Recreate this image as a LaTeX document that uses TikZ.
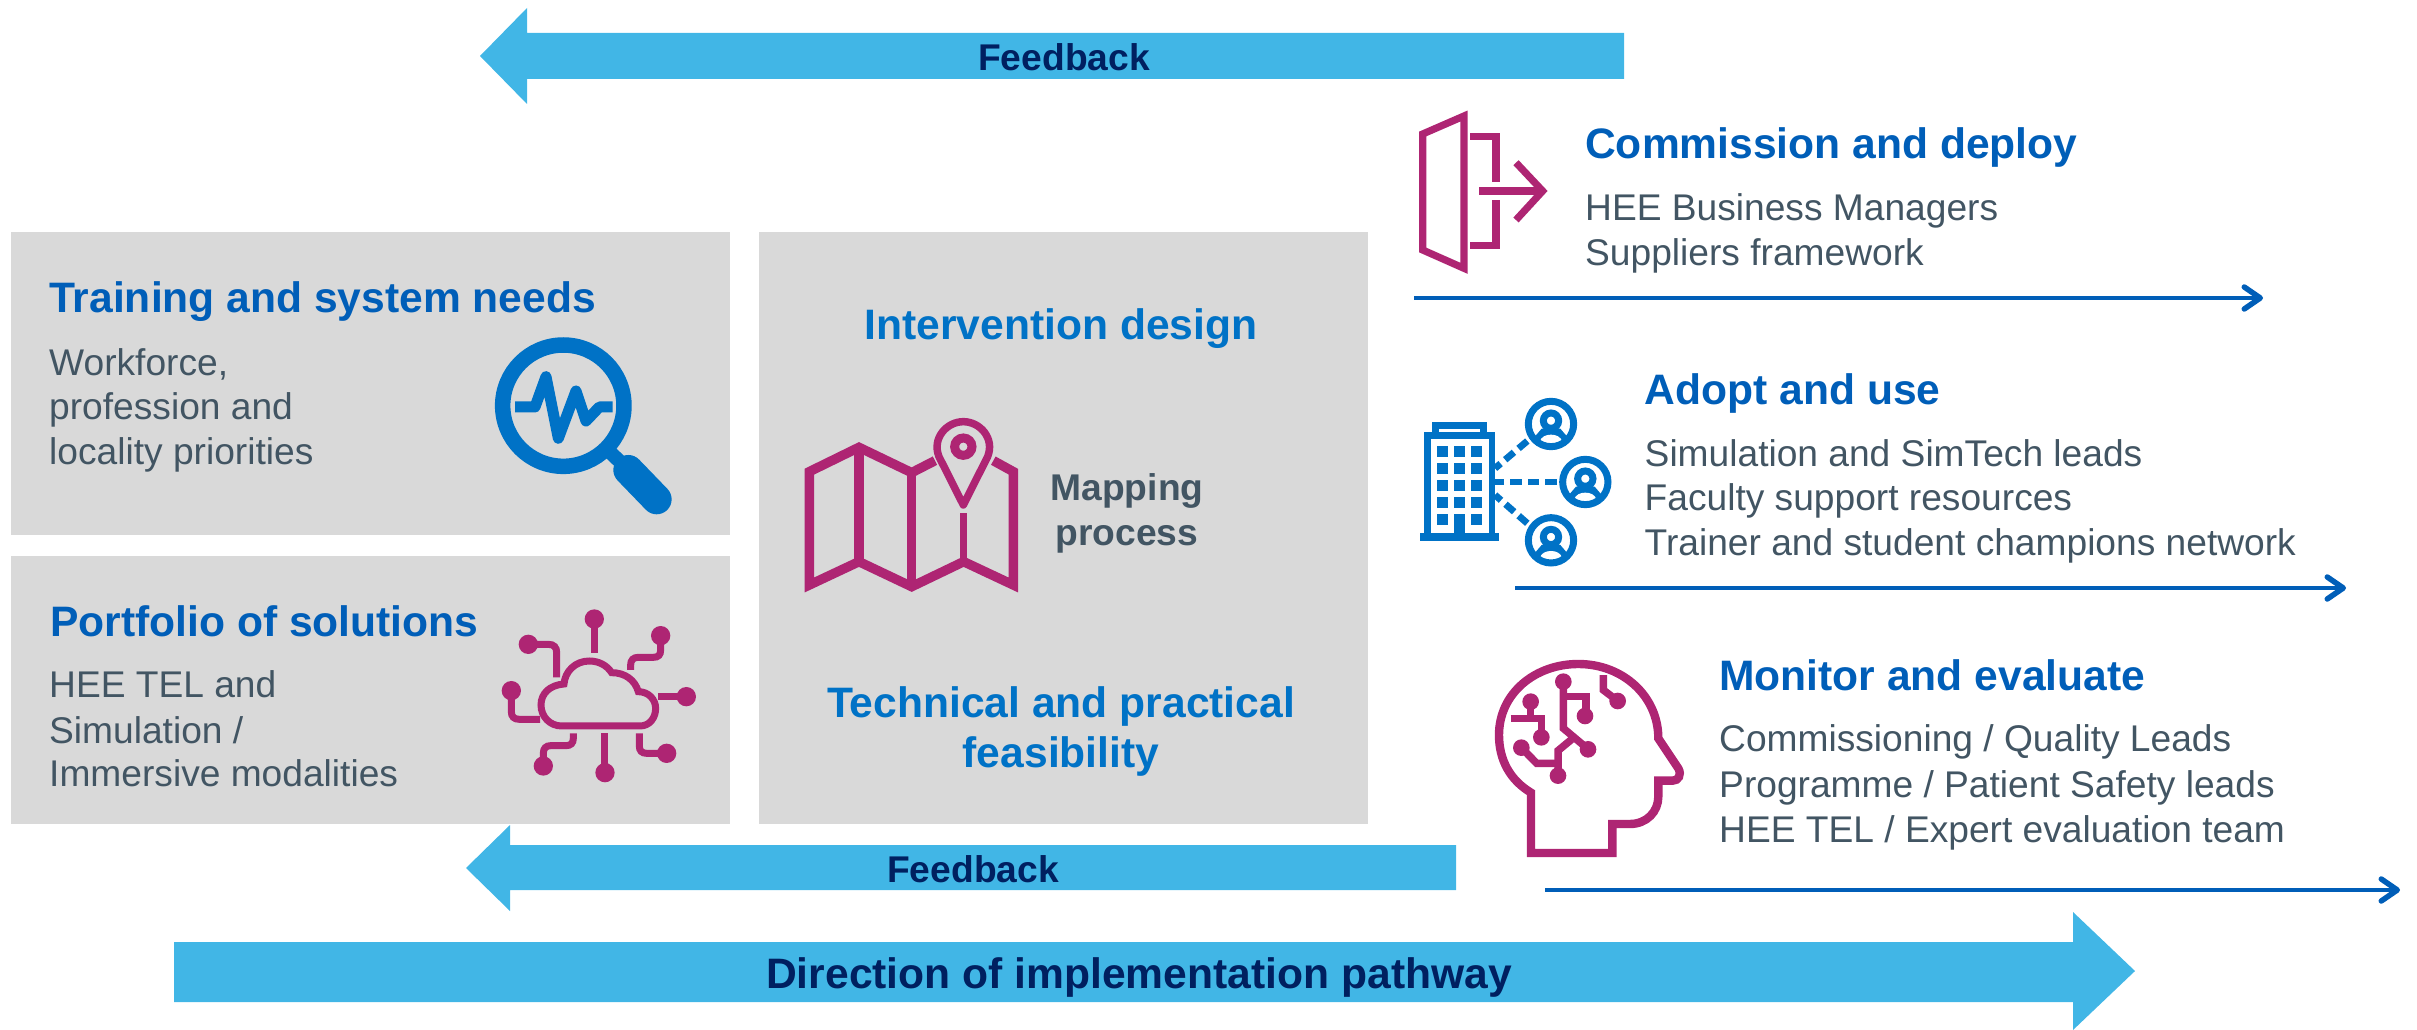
\documentclass[tikz,border=0pt]{standalone}
\usepackage{fontspec}
\setmainfont{Liberation Sans}
\definecolor{panel}{HTML}{D9D9D9}
\definecolor{sky}{HTML}{41B6E6}
\definecolor{navy}{HTML}{002060}
\definecolor{headblue}{HTML}{005EB8}
\definecolor{bodygrey}{HTML}{425563}
\definecolor{plum}{HTML}{AE2573}
\definecolor{iconblue}{HTML}{0072C6}
\newcommand{\bodysize}{\fontsize{37.15}{44}\selectfont}
\newcommand{\boldsize}{\fontsize{37.2}{44}\selectfont}
\newcommand{\headsize}{\fontsize{42.6}{50}\selectfont}
\tikzset{
  panelbox/.style={fill=panel,draw=none},
  bigarrow/.style={fill=sky,draw=none},
  heading/.style={anchor=base west,inner sep=0pt,text=headblue,font=\headsize\bfseries},
  headingc/.style={anchor=base,inner sep=0pt,text=iconblue,font=\headsize\bfseries},
  bodytext/.style={anchor=base west,inner sep=0pt,text=bodygrey,font=\bodysize},
  boldc/.style={anchor=base,inner sep=0pt,text=bodygrey,font=\boldsize\bfseries},
  arrowlabel/.style={anchor=base,inner sep=0pt,text=navy,font=\boldsize\bfseries},
  rule/.style={draw=headblue,line width=3.6pt,-{Straight Barb[length=16pt,width=22pt,line width=5.5pt,round]}},
  plumline/.style={draw=plum,line cap=butt,line join=miter},
  blueline/.style={draw=iconblue,line cap=butt,line join=miter},
  zoomed/.style={x=0.3333pt,y=-0.3333pt},
}
\usetikzlibrary{arrows.meta}
\begin{document}
\begin{tikzpicture}[x=1pt,y=-1pt]
\useasboundingbox (0,0) rectangle (2417,1030);
% panels
\fill[panelbox] (11,232) rectangle (730,535);
\fill[panelbox] (11,556) rectangle (730,824);
\fill[panelbox] (759,232) rectangle (1368,824);
% big arrows
\fill[bigarrow] (1624,33) -- (527,33) -- (527,8) -- (480,56) -- (527,104) -- (527,79) -- (1624,79) -- cycle;
\fill[bigarrow] (1456,845) -- (510,845) -- (510,825) -- (466,868) -- (510,911) -- (510,890) -- (1456,890) -- cycle;
\fill[bigarrow] (174,942) -- (2073,942) -- (2073,912) -- (2135,971) -- (2073,1030) -- (2073,1002) -- (174,1002) -- cycle;
\node[arrowlabel] (fb1) at (1064,70.5) {Feedback};
\node[arrowlabel] (fb2) at (973,882.5) {Feedback};
\node[anchor=base,inner sep=0pt,text=navy,font=\headsize\bfseries] (dir) at (1139,988.5) {Direction of implementation pathway};
% rules
\coordinate (r1a) at (1414,298); \coordinate (r1b) at (2263,298);
\coordinate (r2a) at (1515,588); \coordinate (r2b) at (2346,588);
\coordinate (r3a) at (1545,890); \coordinate (r3b) at (2400,890);
\draw[rule] (r1a) -- (r1b);
\draw[rule] (r2a) -- (r2b);
\draw[rule] (r3a) -- (r3b);
% texts
\node[heading] (t1) at (49,312.5) {Training and system needs};
\node[bodytext] (t1a) at (49,375) {Workforce,};
\node[bodytext] (t1b) at (49,419) {profession and};
\node[bodytext] (t1c) at (49,464) {locality priorities};
\node[heading] (t2) at (50,636.5) {Portfolio of solutions};
\node[bodytext] (t2a) at (49,697) {HEE TEL and};
\node[bodytext] (t2b) at (49,743) {Simulation /};
\node[bodytext] (t2c) at (49,786) {Immersive modalities};
\node[headingc] (t3) at (1061,339) {Intervention design};
\node[boldc] (t3a) at (1127,500) {Mapping};
\node[boldc] (t3b) at (1127,545) {process};
\node[headingc] (t4) at (1061,717) {Technical and practical};
\node[headingc] (t4a) at (1061,767.5) {feasibility};
\node[heading] (c0) at (1585,158.5) {Commission and deploy};
\node[bodytext] (c1) at (1585,220) {HEE Business Managers};
\node[bodytext] (c2) at (1585,265) {Suppliers framework};
\node[heading] (a0) at (1644.5,404) {Adopt and use};
\node[bodytext] (a1) at (1644.5,466) {Simulation and SimTech leads};
\node[bodytext] (a2) at (1644.5,510) {Faculty support resources};
\node[bodytext] (a3) at (1644.5,555) {Trainer and student champions network};
\node[heading] (m0) at (1719,690.5) {Monitor and evaluate};
\node[bodytext] (m1) at (1719,751) {Commissioning / Quality Leads};
\node[bodytext] (m2) at (1719,797) {Programme / Patient Safety leads};
\node[bodytext] (m3) at (1719,842) {HEE TEL / Expert evaluation team};
% door icon
\begin{scope}[shift={(1390,90)},zoomed]
\draw[plumline,line width=7.2pt] (98,132) -- (222,78) -- (222,535) -- (98,480) -- cycle;
\draw[plumline,line width=7.2pt] (240,139) -- (318,139) -- (318,277);
\draw[plumline,line width=7.2pt] (318,330) -- (318,466) -- (240,466);
\draw[plumline,line width=7.2pt] (267,303) -- (450,303);
\draw[plumline,line width=7.2pt] (378,218) -- (458,303) -- (378,390);
\end{scope}
% building icon
\begin{scope}[shift={(1400,380)},zoomed]
\fill[iconblue] (60,460) rectangle (298,482);
\draw[blueline,line width=6.5pt] (82,470) -- (82,167) -- (276,167) -- (276,470);
\draw[blueline,line width=6.5pt] (107,167) -- (107,136) -- (250,136) -- (250,167);
\foreach \yy in {197,248,300,351,402} {
  \fill[iconblue] (110,\yy) rectangle (144,\yy+34);
  \fill[iconblue] (213,\yy) rectangle (247,\yy+34);
}
\foreach \yy in {197,248,300,351} { \fill[iconblue] (162,\yy) rectangle (196,\yy+34); }
\fill[iconblue] (162,402) rectangle (196,460);
\draw[blueline,line width=6.8pt,dash pattern=on 11.5pt off 6pt] (470,306) -- (285,306);
\draw[blueline,line width=6.8pt,dash pattern=on 11.5pt off 6pt] (382,183) -- (285,265);
\draw[blueline,line width=6.8pt,dash pattern=on 11.5pt off 6pt] (382,430) -- (285,345);
\foreach \cx/\cy in {453/132,556/306,453/481} {
  \begin{scope}[shift={(\cx,\cy)},zoomed]
  \fill[iconblue] (-28,14) -- (28,14) -- (52,42) -- (45,58) -- (-45,58) -- (-52,42) -- cycle;
  \fill[white] (-34,54) .. controls (-30,38) and (-15,32) .. (0,32) .. controls (15,32) and (30,38) .. (34,54) -- (24,64) -- (-24,64) -- cycle;
  \draw[blueline,line width=7pt] (0,-10) circle[radius=23];
  \draw[blueline,line width=7pt] (0,0) circle[radius=68];
  \end{scope}
}
\end{scope}
% head icon
\begin{scope}[shift={(1480,640)},zoomed]
\draw[plumline,line width=8.4pt] (153,639) -- (153,458) .. controls (90,420) and (57,360) .. (57,285) .. controls (57,160) and (165,72) .. (295,72) .. controls (430,72) and (535,170) .. (535,295) -- (595,385) .. controls (606,405) and (595,422) .. (578,422) -- (535,422) -- (535,470) .. controls (535,515) and (500,552) .. (450,552) -- (397,552) -- (397,639) -- cycle;
\foreach \dx/\dy in {250/125,152/185,315/228,184/292,124/323,324/328,234/407,413/183} { \fill[plum] (\dx,\dy) circle[radius=25]; }
\draw[plumline,line width=7.5pt] (250,125) -- (250,265) -- (325,328);
\draw[plumline,line width=7.5pt] (250,170) -- (318,170) -- (318,228);
\draw[plumline,line width=7.5pt] (152,185) -- (152,235);
\draw[plumline,line width=7.5pt] (92,235) -- (185,235) -- (185,292);
\draw[plumline,line width=7.5pt] (124,323) -- (170,370) -- (234,370);
\draw[plumline,line width=7.5pt] (234,407) -- (234,332) -- (275,298);
\draw[plumline,line width=7.5pt] (370,105) -- (370,150) -- (413,183);
\end{scope}
% magnifier icon
\begin{scope}[shift={(480,320)},zoomed]
\draw[draw=iconblue,line width=15.5pt] (250,257) circle[radius=182];
\draw[draw=iconblue,line width=14pt] (392,398) -- (440,445);
\draw[draw=iconblue,line width=30pt,line cap=round] (445,450) -- (530,538);
\draw[draw=iconblue,line width=11pt,line join=round] (105,261) -- (165,261) -- (198,170) -- (235,355) -- (288,213) -- (318,303) -- (358,261) -- (398,261);
\end{scope}
% cloud icon
\begin{scope}[shift={(490,600)},zoomed]
\draw[plumline,line width=7pt] (215,378) -- (450,378) .. controls (480,378) and (497,352) .. (497,325) .. controls (497,298) and (475,275) .. (445,275) .. controls (435,240) and (405,218) .. (365,218) .. controls (350,195) and (325,183) .. (298,183) .. controls (255,183) and (225,215) .. (222,252) .. controls (180,255) and (153,280) .. (153,315) .. controls (153,350) and (180,378) .. (215,378) -- cycle;
\foreach \dx/\dy in {313/57,512/107,115/133,64/272,589/290,530/460,345/518,160/498} { \fill[plum] (\dx,\dy) circle[radius=29]; }
\draw[plumline,line width=7pt] (313,57) -- (313,160);
\draw[plumline,line width=7pt] (512,107) -- (512,150) .. controls (512,165) and (505,172) .. (490,172) -- (445,172) .. controls (430,172) and (422,180) .. (422,195) -- (422,210);
\draw[plumline,line width=7pt] (115,133) -- (175,133) .. controls (192,133) and (200,142) .. (200,158) -- (200,232);
\draw[plumline,line width=7pt] (64,272) -- (64,335) .. controls (64,350) and (72,358) .. (88,358) -- (150,358);
\draw[plumline,line width=7pt] (589,290) -- (505,290);
\draw[plumline,line width=7pt] (530,460) -- (470,460) .. controls (455,460) and (448,452) .. (448,438) -- (448,400);
\draw[plumline,line width=7pt] (345,518) -- (345,400);
\draw[plumline,line width=7pt] (160,498) -- (160,460) .. controls (160,445) and (168,437) .. (182,437) -- (228,437) .. controls (242,437) and (250,430) .. (250,415) -- (250,400);
\end{scope}
% map icon
\begin{scope}[shift={(790,410)},zoomed]
\draw[plumline,line width=9.5pt] (435,152) -- (365,188) -- (207,112) -- (58,185) -- (58,525) -- (207,455) -- (365,530) -- (521,455) -- (670,525) -- (670,185) -- (610,152);
\draw[plumline,line width=9.5pt] (207,112) -- (207,455);
\draw[plumline,line width=9.5pt] (365,188) -- (365,530);
\draw[plumline,line width=7pt] (521,310) -- (521,455);
\draw[plumline,line width=7.5pt,line join=round] (520,285) -- (447,140) .. controls (425,85) and (470,35) .. (520,35) .. controls (570,35) and (615,85) .. (593,140) -- cycle;
\draw[plumline,line width=9pt] (520,110) circle[radius=26];
\end{scope}
\end{tikzpicture}
\end{document}
